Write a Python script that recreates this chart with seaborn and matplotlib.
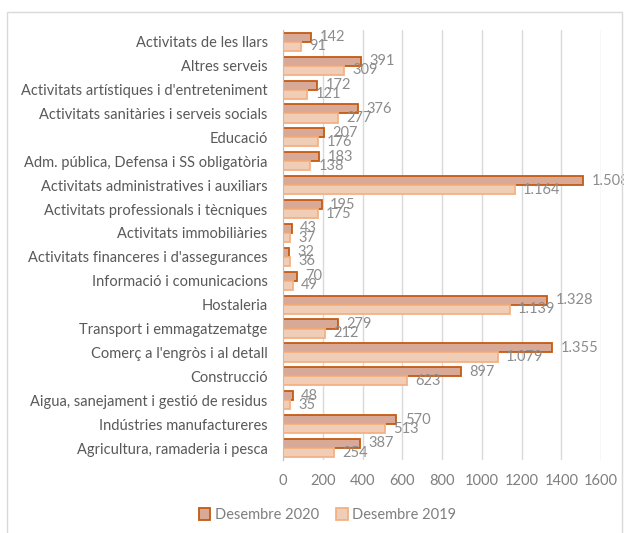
import pandas as pd
import seaborn as sns
import matplotlib.pyplot as plt
from matplotlib.patches import Rectangle

CATEGORIES = [
    'Activitats de les llars',
    'Altres serveis',
    "Activitats artístiques i d'entreteniment",
    'Activitats sanitàries i serveis socials',
    'Educació',
    'Adm. pública, Defensa i SS obligatòria',
    'Activitats administratives i auxiliars',
    'Activitats professionals i tècniques',
    'Activitats immobiliàries',
    "Activitats financeres i d'assegurances",
    'Informació i comunicacions',
    'Hostaleria',
    'Transport i emmagatzematge',
    "Comerç a l'engròs i al detall",
    'Construcció',
    'Aigua, sanejament i gestió de residus',
    'Indústries manufactureres',
    'Agricultura, ramaderia i pesca',
]
DES_2020 = [142, 391, 172, 376, 207, 183, 1508, 195, 43, 32, 70, 1328, 279, 1355, 897, 48, 570, 387]
DES_2019 = [91, 309, 121, 277, 176, 138, 1164, 175, 37, 36, 49, 1139, 212, 1079, 623, 35, 513, 254]
SERIES = ['Desembre 2020', 'Desembre 2019']
X_TICKS = [0, 200, 400, 600, 800, 1000, 1200, 1400, 1600]

FILLS = ['#E3A48C', '#F8CBAD']
EDGES = ['#C55A11', '#F4B183']


def fmt_num(v):
    # format catala: punt com a separador de milers
    return f'{v:,}'.replace(',', '.')


df = pd.concat([
    pd.DataFrame({'cat': CATEGORIES, 'valor': DES_2020, 'serie': SERIES[0]}),
    pd.DataFrame({'cat': CATEGORIES, 'valor': DES_2019, 'serie': SERIES[1]}),
])

sns.set_style('white')
plt.rcParams['font.family'] = ['Lato', 'DejaVu Sans']

fig = plt.figure(figsize=(6.24, 5.33), dpi=100)
ax = fig.add_axes([0.4535, 0.137, 0.51, 0.807])

sns.barplot(data=df, y='cat', x='valor', hue='serie', hue_order=SERIES,
            palette=FILLS, width=0.76, orient='h', ax=ax, legend=True)

for cont, edge, vals in zip(ax.containers, EDGES, [DES_2020, DES_2019]):
    for bar in cont:
        bar.set_edgecolor(edge)
        bar.set_linewidth(1.3)
    ax.bar_label(cont, labels=[fmt_num(v) for v in vals], padding=6,
                 fontsize=10.5, color='#8c8c8c')

ax.set_xlim(0, 1600)
ax.set_xticks(X_TICKS)
ax.xaxis.grid(True, color='#d9d9d9', linewidth=1)
ax.set_axisbelow(True)
for s in ['top', 'right', 'bottom']:
    ax.spines[s].set_visible(False)
ax.spines['left'].set_color('#bfbfbf')
ax.set_xlabel('')
ax.set_ylabel('')
ax.tick_params(axis='x', colors='#7f7f7f', labelsize=10.5, length=0, pad=10)
ax.tick_params(axis='y', colors='#595959', labelsize=10.5, length=0, pad=11)

leg = ax.legend(loc='center', bbox_to_anchor=(0.525, 1 - 515 / 533), bbox_transform=fig.transFigure,
                ncol=2, frameon=False, fontsize=10.5, handlelength=0.8, handleheight=0.8,
                handletextpad=0.3, columnspacing=1.2)
for txt in leg.get_texts():
    txt.set_color('#7f7f7f')
for h, edge in zip(leg.legend_handles, EDGES):
    h.set_edgecolor(edge)
    h.set_linewidth(1.3)

fig.patches.append(Rectangle((7 / 624, -0.01), 615 / 624, 1 - 12 / 533 + 0.01,
                             transform=fig.transFigure, fill=False,
                             edgecolor='#d9d9d9', linewidth=1))

fig.savefig('out.png', dpi=100)
